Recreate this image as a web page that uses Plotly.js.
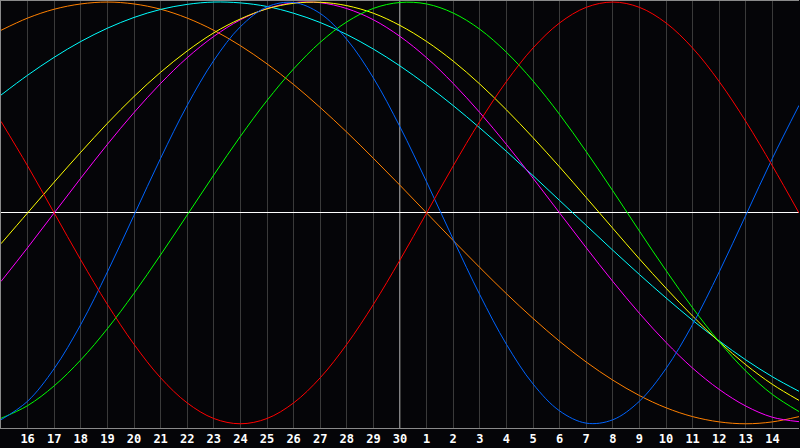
<!DOCTYPE html>
<html>
<head>
<meta charset="utf-8">
<script src="https://cdn.plot.ly/plotly-3.0.1.min.js"></script>
<style>
html, body { margin:0; padding:0; background:#050508; }
#chart { width:800px; height:448px; }
</style>
</head>
<body>
<div id="chart"></div>
<script>
// days shown along the bottom, one grid column per day
var dayLabels = [15,16,17,18,19,20,21,22,23,24,25,26,27,28,29,30,1,2,3,4,5,6,7,8,9,10,11,12,13,14,15];
var todayLabel = 30;

// cycle values per day (-1 .. 1)
var blueCycle    = [-0.981,-0.893,-0.738,-0.529,-0.280,-0.011,0.259,0.510,0.723,0.883,0.977,0.998,0.946,0.823,0.640,0.408,0.147,-0.125,-0.388,-0.623,-0.811,-0.939,-0.997,-0.981,-0.893,-0.738,-0.529,-0.280,-0.011,0.259,0.510];
var redCycle     = [0.434,0.223,0,-0.223,-0.434,-0.623,-0.782,-0.901,-0.975,-1,-0.975,-0.901,-0.782,-0.623,-0.434,-0.223,0,0.223,0.434,0.623,0.782,0.901,0.975,1,0.975,0.901,0.782,0.623,0.434,0.223,0];
var greenCycle   = [-0.974,-0.914,-0.820,-0.697,-0.549,-0.381,-0.199,-0.010,0.180,0.363,0.533,0.683,0.809,0.906,0.970,0.998,0.991,0.948,0.871,0.762,0.626,0.467,0.291,0.105,-0.086,-0.273,-0.450,-0.611,-0.750,-0.861,-0.942];
var yellowCycle  = [-0.146,0,0.146,0.288,0.425,0.552,0.667,0.768,0.854,0.920,0.968,0.994,0.999,0.983,0.947,0.889,0.813,0.720,0.611,0.489,0.357,0.218,0.073,-0.073,-0.218,-0.357,-0.489,-0.611,-0.720,-0.813,-0.889];
var magentaCycle = [-0.325,-0.165,0,0.165,0.325,0.476,0.614,0.736,0.837,0.916,0.969,0.997,0.997,0.969,0.916,0.837,0.736,0.614,0.476,0.325,0.165,0,-0.165,-0.325,-0.476,-0.614,-0.736,-0.837,-0.916,-0.969,-0.990];
var orangeCycle  = [0.866,0.924,0.966,0.991,1,0.991,0.966,0.924,0.866,0.793,0.707,0.609,0.5,0.383,0.259,0.131,0,-0.131,-0.259,-0.383,-0.5,-0.609,-0.707,-0.793,-0.866,-0.924,-0.966,-0.991,-1,-0.991,-0.966];
var cyanCycle    = [0.559,0.653,0.738,0.813,0.876,0.927,0.965,0.989,1.000,0.996,0.979,0.947,0.903,0.846,0.777,0.697,0.607,0.509,0.403,0.292,0.177,0.059,-0.059,-0.177,-0.292,-0.403,-0.509,-0.607,-0.697,-0.777,-0.846];

var xs = dayLabels.map(function(d, i){ return i; });
var todayIndex = dayLabels.indexOf(todayLabel);

function cycleTrace(vals, color){
    return {
        x: xs,
        y: vals,
        type: 'scatter',
        mode: 'lines',
        line: {color: color, width: 1, shape: 'spline', smoothing: 1},
        hoverinfo: 'skip'
    };
}

var data = [
    cycleTrace(orangeCycle, '#ff8000'),
    cycleTrace(cyanCycle, '#00ffff'),
    cycleTrace(magentaCycle, '#ff00ff'),
    cycleTrace(yellowCycle, '#ffff00'),
    cycleTrace(greenCycle, '#00ff00'),
    cycleTrace(blueCycle, '#0064ff'),
    cycleTrace(redCycle, '#ff0000')
];

// labels only on the inner grid lines
var tickIdx = xs.slice(1, xs.length - 1);
var tickTxt = tickIdx.map(function(i){ return String(dayLabels[i]); });

var layout = {
    width: 800,
    height: 448,
    paper_bgcolor: '#050508',
    plot_bgcolor: '#050508',
    showlegend: false,
    margin: {l:1, r:1, t:1, b:20},
    xaxis: {
        range: [0, xs.length - 1],
        tickvals: tickIdx,
        ticktext: tickTxt,
        ticks: '',
        showgrid: true,
        gridcolor: '#3a3a3a',
        gridwidth: 1,
        zeroline: false,
        showline: true,
        mirror: true,
        linecolor: '#8a8a8a',
        linewidth: 1,
        tickfont: {family: 'DejaVu Sans Mono', size: 12, color: '#ffffff', weight: 'bold'},
        fixedrange: true
    },
    yaxis: {
        range: [-1.02, 1.005],
        showgrid: false,
        showticklabels: false,
        ticks: '',
        zeroline: true,
        zerolinecolor: '#ffffff',
        zerolinewidth: 1,
        showline: true,
        linecolor: '#8a8a8a',
        linewidth: 1,
        fixedrange: true
    },
    shapes: [{
        type: 'line', xref: 'x', yref: 'paper',
        x0: todayIndex, x1: todayIndex, y0: 0, y1: 1,
        line: {color: '#ffffff', width: 1},
        layer: 'below'
    }]
};

Plotly.newPlot('chart', data, layout, {displayModeBar: false, staticPlot: true});
</script>
</body>
</html>
